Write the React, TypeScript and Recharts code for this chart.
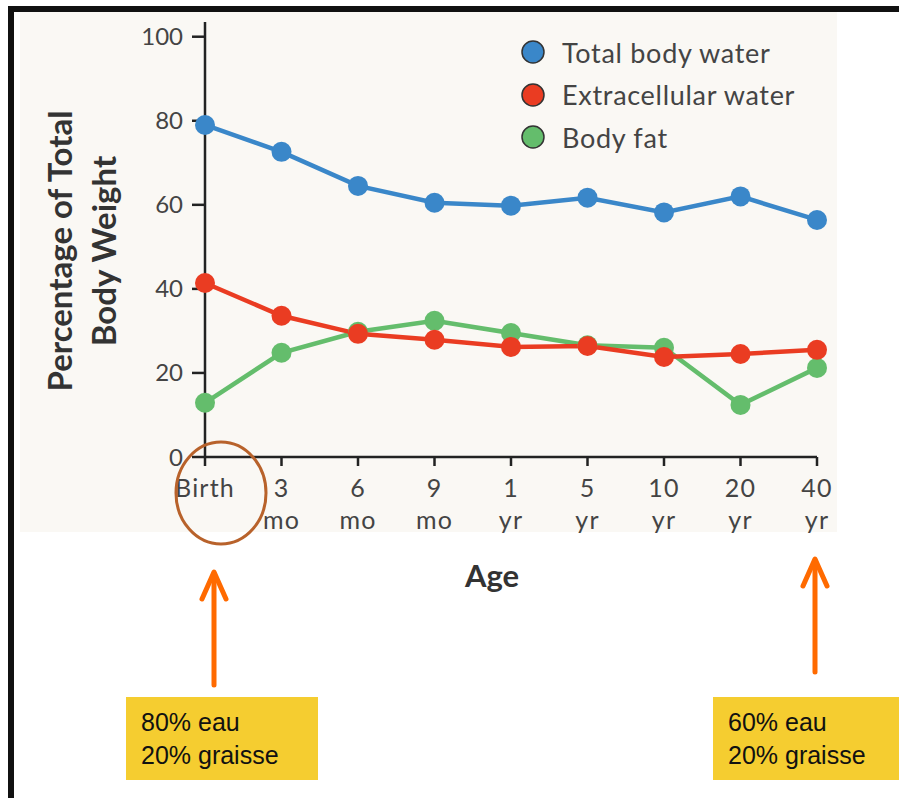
import React from "react";
import { LineChart, Line, XAxis, YAxis, Legend } from "recharts";

const ages = ["Birth", "3 mo", "6 mo", "9 mo", "1 yr", "5 yr", "10 yr", "20 yr", "40 yr"];
const totalBodyWater = [79, 72.6, 64.5, 60.5, 59.8, 61.7, 58.2, 62, 56.4];
const extracellularWater = [41.4, 33.6, 29.3, 27.9, 26.2, 26.4, 23.8, 24.5, 25.5];
const bodyFat = [12.9, 24.8, 29.8, 32.4, 29.5, 26.6, 26, 12.4, 21.2];
const yTicks = [0, 20, 40, 60, 80, 100];

const seriesNames = ["Total body water", "Extracellular water", "Body fat"];
const seriesColors = ["#3a87c9", "#ea3c22", "#64bd6c"];

const data = ages.map((age, i) => ({
  age,
  water: totalBodyWater[i],
  ecw: extracellularWater[i],
  fat: bodyFat[i],
}));

const FONT = "Lato, 'Open Sans', sans-serif";

function AgeTick(props: any) {
  const { x, y, payload } = props;
  const [top, bottom] = String(payload.value).split(" ");
  return (
    <g fill="#444" fontSize={25} fontFamily={FONT} letterSpacing={1.2}>
      <text x={x} y={y + 31} textAnchor="middle">
        {top}
      </text>
      {bottom && (
        <text x={x} y={y + 63} textAnchor="middle">
          {bottom}
        </text>
      )}
    </g>
  );
}

function renderLegend() {
  return (
    <div style={{ fontFamily: FONT }}>
      {seriesNames.map((name, i) => (
        <div key={name} style={{ display: "flex", alignItems: "center", height: 42.5 }}>
          <svg width={26} height={26} style={{ marginRight: 16 }}>
            <circle cx={13} cy={13} r={11} fill={seriesColors[i]} stroke="#333" strokeWidth={1.5} />
          </svg>
          <span style={{ fontSize: 27, color: "#444", letterSpacing: 0.7 }}>{name}</span>
        </div>
      ))}
    </div>
  );
}

function Arrow({ x, tip, bottom }: { x: number; tip: number; bottom: number }) {
  return (
    <g stroke="#ff6a00" strokeWidth={5} strokeLinecap="round" fill="none">
      <line x1={x} y1={bottom} x2={x} y2={tip + 2} />
      <polyline points={`${x - 12},${tip + 27} ${x},${tip} ${x + 12},${tip + 27}`} strokeLinejoin="round" />
    </g>
  );
}

function NoteBox({ x, width, lines }: { x: number; width: number; lines: string[] }) {
  return (
    <g>
      <rect x={x} y={697} width={width} height={83} fill="#f5cd30" />
      {lines.map((l, i) => (
        <text key={l} x={x + 15} y={731 + i * 33} fontSize={25} fill="#111" fontFamily="'Liberation Sans', Arial, sans-serif">
          {l}
        </text>
      ))}
    </g>
  );
}

export default function App() {
  return (
    <div style={{ position: "absolute", left: 0, top: 0, width: 899, height: 798, background: "#fff", overflow: "hidden" }}>
      <div style={{ position: "absolute", left: 20, top: 12, width: 817, height: 520, background: "#faf8f4" }} />
      <div style={{ position: "absolute", left: 8, top: 6, width: 891, height: 6, background: "#111" }} />
      <div style={{ position: "absolute", left: 8, top: 6, width: 6, height: 792, background: "#111" }} />

      <div style={{ position: "absolute", left: 0, top: 0 }}>
        <LineChart width={899} height={798} data={data} margin={{ top: 22, right: 82, bottom: 261, left: 145 }}>
          <XAxis
            dataKey="age"
            height={80}
            interval={0}
            padding={{ left: 0, right: 0 }}
            tickSize={9}
            tickMargin={0}
            tick={<AgeTick />}
            axisLine={{ stroke: "#222", strokeWidth: 2.5 }}
            tickLine={{ stroke: "#222", strokeWidth: 2.5 }}
          />
          <YAxis
            width={60}
            domain={[0, 103.5]}
            ticks={yTicks}
            tickSize={13}
            tickMargin={9}
            axisLine={{ stroke: "#222", strokeWidth: 2.5 }}
            tickLine={{ stroke: "#222", strokeWidth: 2.5 }}
            tick={{ fill: "#444", fontSize: 24, fontFamily: FONT }}
          />
          <Legend
            layout="vertical"
            align="center"
            verticalAlign="middle"
            content={renderLegend}
            wrapperStyle={{ left: 520, top: 31, width: 340 }}
          />
          <Line dataKey="water" name={seriesNames[0]} stroke={seriesColors[0]} strokeWidth={4.5}
            dot={{ r: 10, fill: seriesColors[0], stroke: "none" }} activeDot={false} isAnimationActive={false} />
          <Line dataKey="fat" name={seriesNames[2]} stroke={seriesColors[2]} strokeWidth={4.5}
            dot={{ r: 10, fill: seriesColors[2], stroke: "none" }} activeDot={false} isAnimationActive={false} />
          <Line dataKey="ecw" name={seriesNames[1]} stroke={seriesColors[1]} strokeWidth={4.5}
            dot={{ r: 10, fill: seriesColors[1], stroke: "none" }} activeDot={false} isAnimationActive={false} />
        </LineChart>
      </div>

      <svg width={899} height={798} style={{ position: "absolute", left: 0, top: 0, pointerEvents: "none" }}>
        <g fontSize={33} fontWeight={700} fill="#333" fontFamily={FONT} textAnchor="middle">
          <text transform="translate(72,251) rotate(-90)">Percentage of Total</text>
          <text transform="translate(116,251) rotate(-90)">Body Weight</text>
          <text x={492} y={587} fontSize={31}>Age</text>
        </g>
        <ellipse cx={221} cy={493} rx={45} ry={51} fill="none" stroke="#b8622b" strokeWidth={3} />
        <Arrow x={214} tip={572} bottom={685} />
        <Arrow x={815} tip={559} bottom={672} />
        <NoteBox x={126} width={192} lines={["80% eau", "20% graisse"]} />
        <NoteBox x={713} width={190} lines={["60% eau", "20% graisse"]} />
      </svg>
    </div>
  );
}
